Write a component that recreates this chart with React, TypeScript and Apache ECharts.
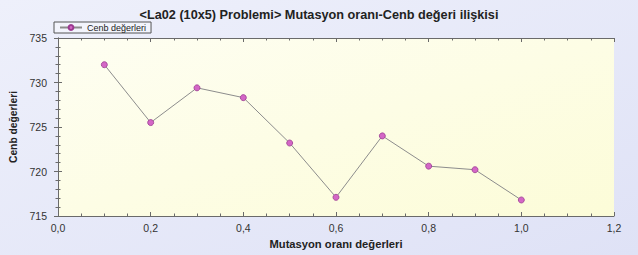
import React, { useEffect, useRef } from "react";
import * as echarts from "echarts";

const titleText = "<La02 (10x5) Problemi> Mutasyon oranı-Cenb değeri ilişkisi";
const seriesName = "Cenb değerleri";
const xTitle = "Mutasyon oranı değerleri";
const yTitle = "Cenb değerleri";
const mutationRates = [0.1, 0.2, 0.3, 0.4, 0.5, 0.6, 0.7, 0.8, 0.9, 1.0];
const cenbValues = [732.0, 725.5, 729.4, 728.3, 723.2, 717.1, 724.0, 720.6, 720.2, 716.8];

const FONT = "Liberation Sans, Arial, sans-serif";

export default function App() {
  const ref = useRef<HTMLDivElement>(null);
  useEffect(() => {
    if (!ref.current) return;
    const chart = echarts.init(ref.current, null, { renderer: "svg" });
    const data = mutationRates.map((x, i) => [x, cenbValues[i]]);
    const fmt = (v: number) => v.toFixed(1).replace(".", ",");
    const axisLine = { show: true, lineStyle: { color: "#6a6a6a", width: 1 } };
    const tickCommon = { show: true, inside: true, length: 4, lineStyle: { color: "#6a6a6a" } };
    const minorCommon = { show: true, length: 2.5, lineStyle: { color: "#6a6a6a" } };
    chart.setOption({
      animation: false,
      backgroundColor: {
        type: "linear", x: 0, y: 0, x2: 1, y2: 1,
        colorStops: [
          { offset: 0, color: "#eef0fb" },
          { offset: 1, color: "#dfe2f6" },
        ],
      },
      textStyle: { fontFamily: FONT },
      title: {
        text: titleText,
        left: "center",
        top: 3,
        textStyle: { fontSize: 12.7, fontWeight: "bold", color: "#222", fontFamily: FONT },
      },
      legend: {
        left: 54,
        top: 22,
        orient: "horizontal",
        borderColor: "#555",
        borderWidth: 1,
        padding: [1, 5, 1, 5],
        itemWidth: 22,
        itemHeight: 6,
        itemGap: 4,
        backgroundColor: "rgba(255,255,255,0.35)",
        textStyle: { fontSize: 9, color: "#222", fontFamily: FONT, padding: [0, 0, 0, 0] },
        data: [{ name: seriesName }],
      },
      grid: {
        left: 55,
        right: 24,
        top: 38,
        bottom: 39,
        show: true,
        borderWidth: 0,
        backgroundColor: {
          type: "linear", x: 0, y: 0, x2: 1, y2: 1,
          colorStops: [
            { offset: 0, color: "#fefef2" },
            { offset: 1, color: "#fcfcd8" },
          ],
        },
      },
      xAxis: [
        {
          type: "value",
          min: 0,
          max: 1.2,
          interval: 0.2,
          name: xTitle,
          nameLocation: "middle",
          nameGap: 22,
          nameTextStyle: { fontSize: 11.2, fontWeight: "bold", color: "#222", fontFamily: FONT },
          axisLine,
          axisTick: tickCommon,
          minorTick: { ...minorCommon, splitNumber: 4 },
          splitLine: { show: false },
          axisLabel: { formatter: fmt, fontSize: 10.5, color: "#333", margin: 6, fontFamily: FONT },
        },
        {
          type: "value",
          position: "top",
          min: 0,
          max: 1.2,
          interval: 0.2,
          axisLine,
          axisTick: tickCommon,
          minorTick: { ...minorCommon, splitNumber: 4 },
          splitLine: { show: false },
          axisLabel: { show: false },
        },
      ],
      yAxis: [
        {
          type: "value",
          min: 715,
          max: 735,
          interval: 5,
          name: yTitle,
          nameLocation: "middle",
          nameGap: 40,
          nameRotate: 90,
          nameTextStyle: { fontSize: 10.3, fontWeight: "bold", color: "#222", fontFamily: FONT },
          axisLine,
          axisTick: tickCommon,
          minorTick: { ...minorCommon, splitNumber: 5 },
          splitLine: { show: false },
          axisLabel: { fontSize: 10.5, color: "#333", margin: 11, fontFamily: FONT },
        },
        {
          type: "value",
          position: "right",
          min: 715,
          max: 735,
          interval: 5,
          axisLine,
          axisTick: tickCommon,
          minorTick: { ...minorCommon, splitNumber: 5 },
          splitLine: { show: false },
          axisLabel: { show: false },
        },
      ],
      series: [
        {
          name: seriesName,
          type: "line",
          xAxisIndex: 0,
          yAxisIndex: 0,
          data,
          symbol: "circle",
          symbolSize: 6,
          lineStyle: { color: "#8c8c8c", width: 1 },
          itemStyle: { color: "#d466c6", borderColor: "#9a3a90", borderWidth: 0.8 },
        },
      ],
    });
    return () => chart.dispose();
  }, []);
  return (
    <div
      ref={ref}
      style={{ position: "fixed", left: 0, top: 0, width: 638, height: 255 }}
    />
  );
}
